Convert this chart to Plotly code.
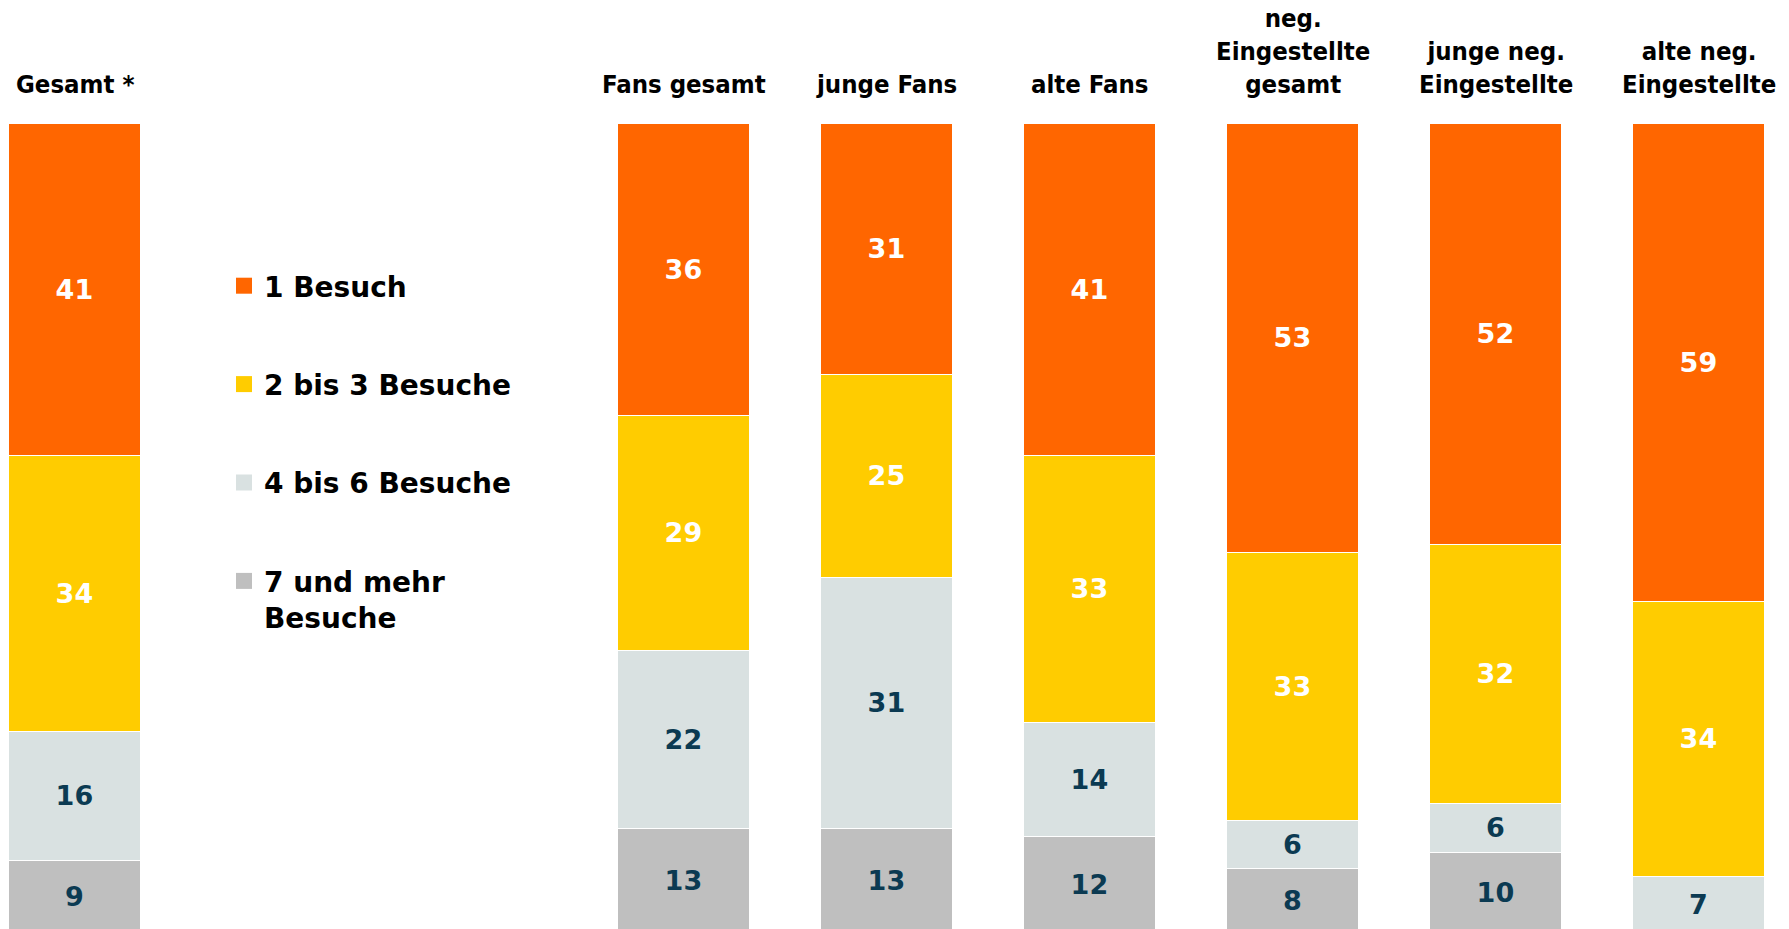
import plotly.graph_objects as go

# Anzahl Besuche nach Gruppe (Anteile in %)
groups = [
    "Gesamt *",
    "Fans gesamt",
    "junge Fans",
    "alte Fans",
    "neg.<br>Eingestellte<br>gesamt",
    "junge neg.<br>Eingestellte",
    "alte neg.<br>Eingestellte",
]
series_names = ["1 Besuch", "2 bis 3 Besuche", "4 bis 6 Besuche", "7 und mehr<br>Besuche"]
besuch_1 = [41, 36, 31, 41, 53, 52, 59]
besuch_2_3 = [34, 29, 25, 33, 33, 32, 34]
besuch_4_6 = [16, 22, 31, 14, 6, 6, 7]
besuch_7_plus = [9, 13, 13, 12, 8, 10, 0]

W, H = 1789, 929
colors = ["#FF6600", "#FFCC00", "#D9E1E1", "#BFBFBF"]
text_colors = ["white", "white", "#0B3A52", "#0B3A52"]

# "Gesamt" stands alone; two empty slots hold the legend before the subgroups
x_pos = [0] + [i + 2 for i in range(1, len(groups))]

values = [besuch_1, besuch_2_3, besuch_4_6, besuch_7_plus]

fig = go.Figure()
# stack from the bottom up so "1 Besuch" ends on top
for k in reversed(range(4)):
    vals = values[k]
    fig.add_trace(go.Bar(
        x=x_pos,
        y=vals,
        name=series_names[k],
        showlegend=False,
        width=0.65,
        marker=dict(color=colors[k], line=dict(color="white", width=1.2)),
        text=[str(v) if v > 0 else "" for v in vals],
        textposition="inside",
        insidetextanchor="middle",
        textangle=0,
        textfont=dict(family="DejaVu Sans", size=27, color=text_colors[k], weight="bold"),
        hoverinfo="skip",
    ))

# legend entries with square swatches
for k in range(4):
    fig.add_trace(go.Scatter(
        x=[None], y=[None], mode="markers",
        name=series_names[k],
        legendgroup=f"g{k}",
        legendrank=k + 1,
        marker=dict(symbol="square", size=16, color=colors[k]),
        hoverinfo="skip",
    ))

for xp, label in zip(x_pos, groups):
    fig.add_annotation(
        x=xp, y=102.9, xref="x", yref="y",
        text=label, showarrow=False,
        xanchor="center", yanchor="bottom",
        font=dict(family="DejaVu Sans Condensed, DejaVu Sans", size=25.5, color="black", weight="bold"),
        align="center",
    )

fig.update_layout(
    width=W, height=H,
    margin=dict(l=0, r=0, t=0, b=0),
    barmode="stack",
    bargap=0,
    plot_bgcolor="white",
    paper_bgcolor="white",
    showlegend=True,
    legend=dict(
        x=224 / W, y=1 - 261 / H, xanchor="left", yanchor="top",
        traceorder="grouped",
        tracegroupgap=59,
        valign="top",
        font=dict(family="DejaVu Sans", size=28, color="black", weight="bold"),
        bgcolor="rgba(0,0,0,0)",
    ),
    xaxis=dict(range=[-0.369, 8.443], visible=False, fixedrange=True),
    yaxis=dict(range=[0.62, 115.31], visible=False, fixedrange=True),
)

fig.write_html("out.html")
